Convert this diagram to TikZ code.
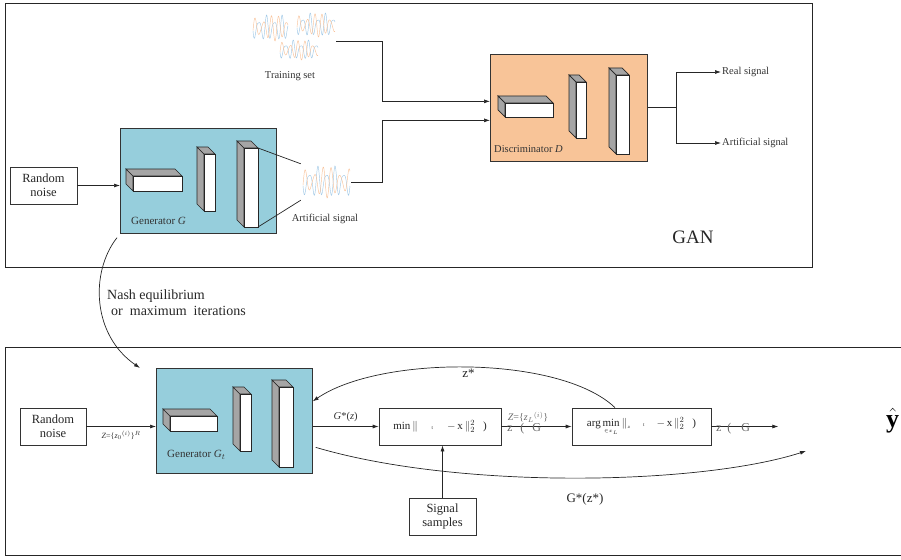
\documentclass[tikz,border=0pt]{standalone}
\usepackage{amsmath,amssymb,bm}
\usepackage{fontspec}
\setmainfont{Liberation Serif}
\usepackage{xcolor}
\definecolor{genfill}{RGB}{150,206,220}
\definecolor{discfill}{RGB}{248,196,152}
\definecolor{layergray}{RGB}{165,165,165}
\definecolor{waveblue}{RGB}{160,200,230}
\definecolor{waveorange}{RGB}{248,195,155}
\usepackage{tikz}
\usetikzlibrary{arrows.meta,positioning,calc}
\tikzset{
  box/.style={draw=black!80,fill=white,line width=0.7pt,inner sep=2pt,align=center,%
    text=black!85,font=\fontsize{12.5}{14}\selectfont},
  gen/.style={draw=black!80,fill=genfill,line width=0.7pt,inner sep=0pt,anchor=north west},
  disc/.style={draw=black!80,fill=discfill,line width=0.7pt,inner sep=0pt,anchor=north west},
  lbl/.style={font=\fontsize{10.5}{12}\selectfont,text=black!80,inner sep=1pt},
  flow/.style={-{Latex[length=6pt,width=4pt]},draw=black!85,line width=0.7pt},
  wire/.style={draw=black!85,line width=0.7pt},
}
% a layer drawn as a block: front face at (#1,#2), width #3, height #4
\newcommand{\layer}[4]{%
  \filldraw[draw=black!85,fill=layergray,line width=0.7pt] (#1,#2) -- ++(-7,-7) -- ++(0,#4) -- ++(7,7) -- cycle;
  \filldraw[draw=black!85,fill=layergray,line width=0.7pt] (#1,#2) -- ++(-7,-7) -- ++(#3,0) -- ++(7,7) -- cycle;
  \filldraw[draw=black!85,fill=white,line width=0.7pt] (#1,#2) rectangle ++(#3,#4);
}
% two overlaid signal traces: left x, centre y, width, half height, cycles
\newcommand{\sigwave}[5]{%
  \draw[waveblue,line width=0.45pt] plot[domain=0:1,samples=120,smooth]
    ({#1+#3*\x},{#2+#4*(0.7*sin(#5*360*\x)+0.3*sin(1.5*#5*360*\x+50))});
  \draw[waveorange,line width=0.45pt] plot[domain=0:1,samples=120,smooth]
    ({#1+#3*\x},{#2+#4*(0.7*sin(#5*360*\x+150)+0.3*sin(1.3*#5*360*\x+210))});
}

\begin{document}
\begin{tikzpicture}[x=1pt,y=-1pt,node distance=4pt and 8pt]
\useasboundingbox (0,0) rectangle (901,559);
\draw[black!85,line width=0.8pt] (5,3) rectangle (812,267);
\draw[black!85,line width=0.8pt] (905,347) -- (5,347) -- (5,555) -- (905,555);

% training stage
\node[box,minimum width=67pt,minimum height=37pt] (rn) at (43.5,185.5) {Random\\noise};
\node[gen,minimum width=156pt,minimum height=105pt] (gen) at (120,128) {};
\node[lbl,anchor=base west,font=\fontsize{11}{12}\selectfont] (genlbl) at ([xshift=10pt,yshift=9pt]gen.south west) {Generator \textit{G}};
\layer{133}{176}{49}{15}
\layer{204}{154}{11}{57}
\layer{244}{148}{14}{79}

\node[disc,minimum width=157pt,minimum height=107pt] (disc) at (490,54) {};
\node[lbl,anchor=base west] (disclbl) at ([xshift=3pt,yshift=9pt]disc.south west) {Discriminator \textit{D}};
\layer{505}{103}{48}{14}
\layer{576}{82}{10}{56}
\layer{616}{75}{13}{79}

\node[minimum width=82pt,minimum height=52pt,inner sep=0pt] (ts) at (295,41) {};
\sigwave{253}{28}{35}{13}{4.5}
\sigwave{297}{25}{38}{12}{5}
\sigwave{280}{50}{38}{10}{5}
\node[lbl] (tslbl) at (290,76) {Training set};

\node[minimum width=50pt,minimum height=36pt,inner sep=0pt] (as) at (326,182) {};
\sigwave{303}{182}{47}{16}{5.5}
\node[lbl] (aslbl) at (325,219) {Artificial signal};

\draw[wire] (258,148) -- (as.north west);
\draw[wire] (258,227) -- (as.south west);
\draw[flow] (rn) -- (rn -| gen.west);
\draw[flow] (ts.east) -- ++(46,0) |- ([yshift=6.5pt]disc.west);
\draw[flow] (as.east) -- ++(31,0) |- ([yshift=-12.5pt]disc.west);

\node[lbl,anchor=west] (real) at (721,72) {Real signal};
\node[lbl,anchor=west] (fake) at (721,143) {Artificial signal};
\draw[wire] (disc.east) -- ++(29,0) coordinate (split);
\draw[flow] (split) |- (real.west);
\draw[flow] (split) |- (fake.west);
\node[font=\fontsize{19}{20}\selectfont,text=black!85] (gan) at (693,237) {GAN};

% reconstruction stage
\node[box,minimum width=66pt,minimum height=37pt] (rnt) at (53,426.5) {Random\\noise};
\node[gen,minimum width=156pt,minimum height=105pt] (gent) at (156,368) {};
\node[lbl,anchor=base west,font=\fontsize{11}{12}\selectfont] (gentlbl) at ([xshift=10pt,yshift=16pt]gent.south west) {Generator \textit{G}$_t$};
\layer{170}{416}{47}{15}
\layer{240}{394}{11}{57}
\layer{279}{387}{14}{80}

\draw[flow] ([xshift=-3pt,yshift=-4pt]gen.south west) .. controls (90,272) and (92,335) .. ([xshift=-16pt]gent.north west);
\node[anchor=north west,align=left,font=\fontsize{14}{16}\selectfont,text=black!85,inner sep=0pt] (nash) at (107,290)
  {Nash equilibrium\\\hspace*{4pt}or\ \ maximum\ \ iterations};

\node[box,minimum width=122pt,minimum height=37pt,font=\fontsize{11}{12}\selectfont] (mn) at (440,426.5)
  {min\,$\|$\hspace{14pt}{\tiny t}\hspace{14pt}$-$\,x\,$\|_2^2$\hspace{8pt})};
\node[box,minimum width=139pt,minimum height=37pt,font=\fontsize{11}{12}\selectfont] (amn) at (641.5,426.5)
  {arg\,$\mathop{\mathrm{min}}\limits_{\scriptscriptstyle\in x_L}\|_{\scriptscriptstyle z}$\hspace{12pt}{\tiny t}\hspace{12pt}$-$\,x\,$\|_2^2$\hspace{8pt})};
\node[box,minimum width=67pt,minimum height=37pt] (ss) at (442.5,516.5) {Signal\\samples};

\draw[flow] (rnt) -- (rnt -| gent.west) node[midway,below=3pt,lbl,font=\fontsize{8}{9}\selectfont]
  {\textit{Z}=\{\textit{z}$_0{}^{(i)}$\}$^R$};
\draw[flow] (gent.east |- mn.west) -- (mn.west) node[midway,above=3pt,lbl] {\textit{G}*(\textit{z})};
\draw[flow] (mn) -- (amn);
\node[lbl,font=\fontsize{10}{11}\selectfont,text=black!60] (zl) at (528,417) {\textit{Z}=\{\textit{z}$_L{}^{(i)}$\}};
\node[lbl,font=\fontsize{12}{13}\selectfont,text=black!60] (zg1) at (524,429) {z\hspace{8pt}(\hspace{8pt}G};
\draw[flow] (amn.east) -- ++(67,0) coordinate (yout);
\node[lbl,font=\fontsize{12}{13}\selectfont,text=black!60] (zg2) at (733,429) {z\hspace{6pt}(\hspace{10pt}G};
\node[anchor=base west,inner sep=0pt,font=\fontsize{26}{28}\selectfont] (yhat) at (886,427) {$\hat{\mathbf{y}}$};

\draw[flow] (ss.north) -- (ss.north |- mn.south);
\draw[flow] ([xshift=-26.5pt]amn.north) .. controls (560,355) and (380,355) .. ([yshift=19.5pt]gent.east)
  node[pos=0.5,anchor=north,inner sep=1pt,font=\fontsize{13}{14}\selectfont,text=black!85] (zs) {z*};
\coordinate (gzend) at (806,451);
\draw[flow] ([xshift=3pt,yshift=-26.5pt]gent.east) .. controls (460,490) and (700,485) .. (gzend);
\node[font=\fontsize{13}{14}\selectfont,text=black!85] (gzlbl) at (585,499) {G*(z*)};
\end{tikzpicture}
\end{document}
